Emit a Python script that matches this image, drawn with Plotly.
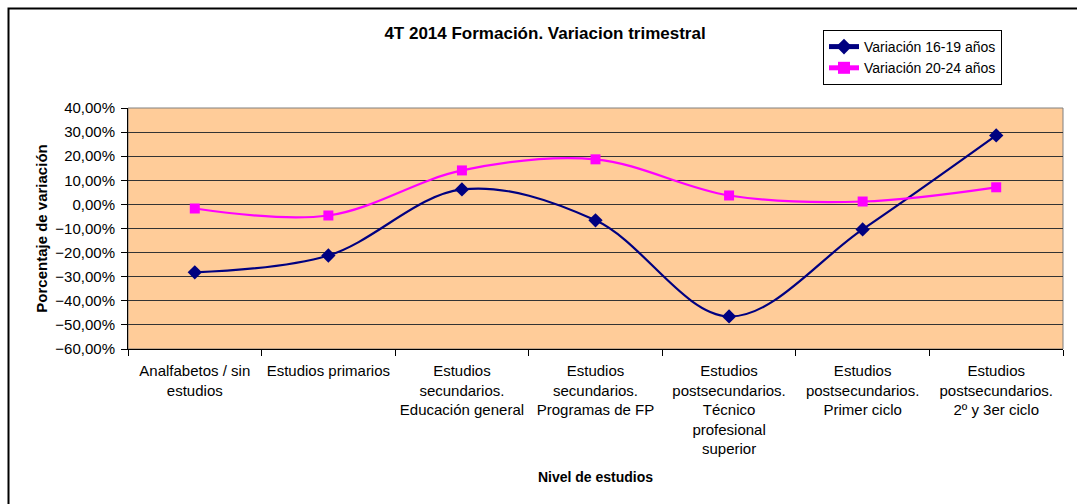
import plotly.graph_objects as go

categories = [
    "Analfabetos / sin<br>estudios",
    "Estudios primarios",
    "Estudios<br>secundarios.<br>Educación general",
    "Estudios<br>secundarios.<br>Programas de FP",
    "Estudios<br>postsecundarios.<br>Técnico<br>profesional<br>superior",
    "Estudios<br>postsecundarios.<br>Primer ciclo",
    "Estudios<br>postsecundarios.<br>2º y 3er ciclo",
]
var_16_19 = [-0.282, -0.212, 0.062, -0.066, -0.465, -0.104, 0.286]
var_20_24 = [-0.017, -0.046, 0.141, 0.187, 0.037, 0.012, 0.071]

W, H = 1077, 504
L, R, T, B = 128, 14, 108, 155
pw, ph = W - L - R, H - T - B

def px_x(x):
    return (x - L) / pw

def px_y(y):
    return (H - B - y) / ph

FONT = "Liberation Sans, Arial, sans-serif"

fig = go.Figure()
fig.add_trace(go.Scatter(
    x=categories, y=var_16_19, name="Variación 16-19 años",
    mode="lines+markers",
    line=dict(color="#000080", width=2.2, shape="spline", smoothing=1.0),
    marker=dict(symbol="diamond", size=11, color="#000080"),
))
fig.add_trace(go.Scatter(
    x=categories, y=var_20_24, name="Variación 20-24 años",
    mode="lines+markers",
    line=dict(color="#FF00FF", width=2.2, shape="spline", smoothing=1.0),
    marker=dict(symbol="square", size=10, color="#FF00FF"),
))

fig.update_layout(
    width=W, height=H,
    margin=dict(l=L, r=R, t=T, b=B, autoexpand=False),
    paper_bgcolor="white",
    plot_bgcolor="#FFCC99",
    separators=",.",
    font=dict(family=FONT, size=15, color="black"),
    title=dict(
        text="<b>4T 2014 Formación. Variacion trimestral</b>",
        x=545 / W, xanchor="center", y=1 - 33 / H, yanchor="middle",
        font=dict(size=17, family=FONT),
    ),
    legend=dict(
        x=px_x(823), y=px_y(30), xanchor="left", yanchor="top",
        bordercolor="black", borderwidth=1, bgcolor="white",
        font=dict(size=14, family=FONT),
        tracegroupgap=0, itemsizing="constant",
    ),
    xaxis=dict(
        type="category", range=[-0.5, 6.5],
        tickson="boundaries", ticks="outside", ticklen=6, tickcolor="black",
        showgrid=False, showline=True, linecolor="black", linewidth=1,
        tickfont=dict(size=15, family=FONT), tickangle=0,
        ticklabelstandoff=8,
        title=dict(text="<b>Nivel de estudios</b>", font=dict(size=14, family=FONT), standoff=16),
    ),
    yaxis=dict(
        range=[-0.6, 0.4], dtick=0.1, tick0=0, tickformat=".2%",
        ticks="outside", ticklen=6, tickcolor="black",
        showgrid=True, gridcolor="#333333", gridwidth=1,
        showline=True, linecolor="black", linewidth=1, zeroline=False,
        tickfont=dict(size=15, family=FONT),
        ticklabelstandoff=3,
        title=dict(text="<b>Porcentaje de variación</b>", font=dict(size=15, family=FONT), standoff=4),
    ),
    shapes=[
        dict(type="rect", xref="paper", yref="paper", x0=0, x1=1, y0=0, y1=1,
             line=dict(color="#808080", width=1), layer="below"),
        dict(type="rect", xref="paper", yref="paper",
             x0=px_x(8.5), x1=px_x(W + 20), y0=px_y(8.5), y1=px_y(H + 20),
             line=dict(color="black", width=2), layer="above"),
    ],
)

fig.write_html(
    "out.html",
    config={"displayModeBar": False},
    post_script="document.body.style.margin='0';document.body.style.overflow='hidden';",
)
